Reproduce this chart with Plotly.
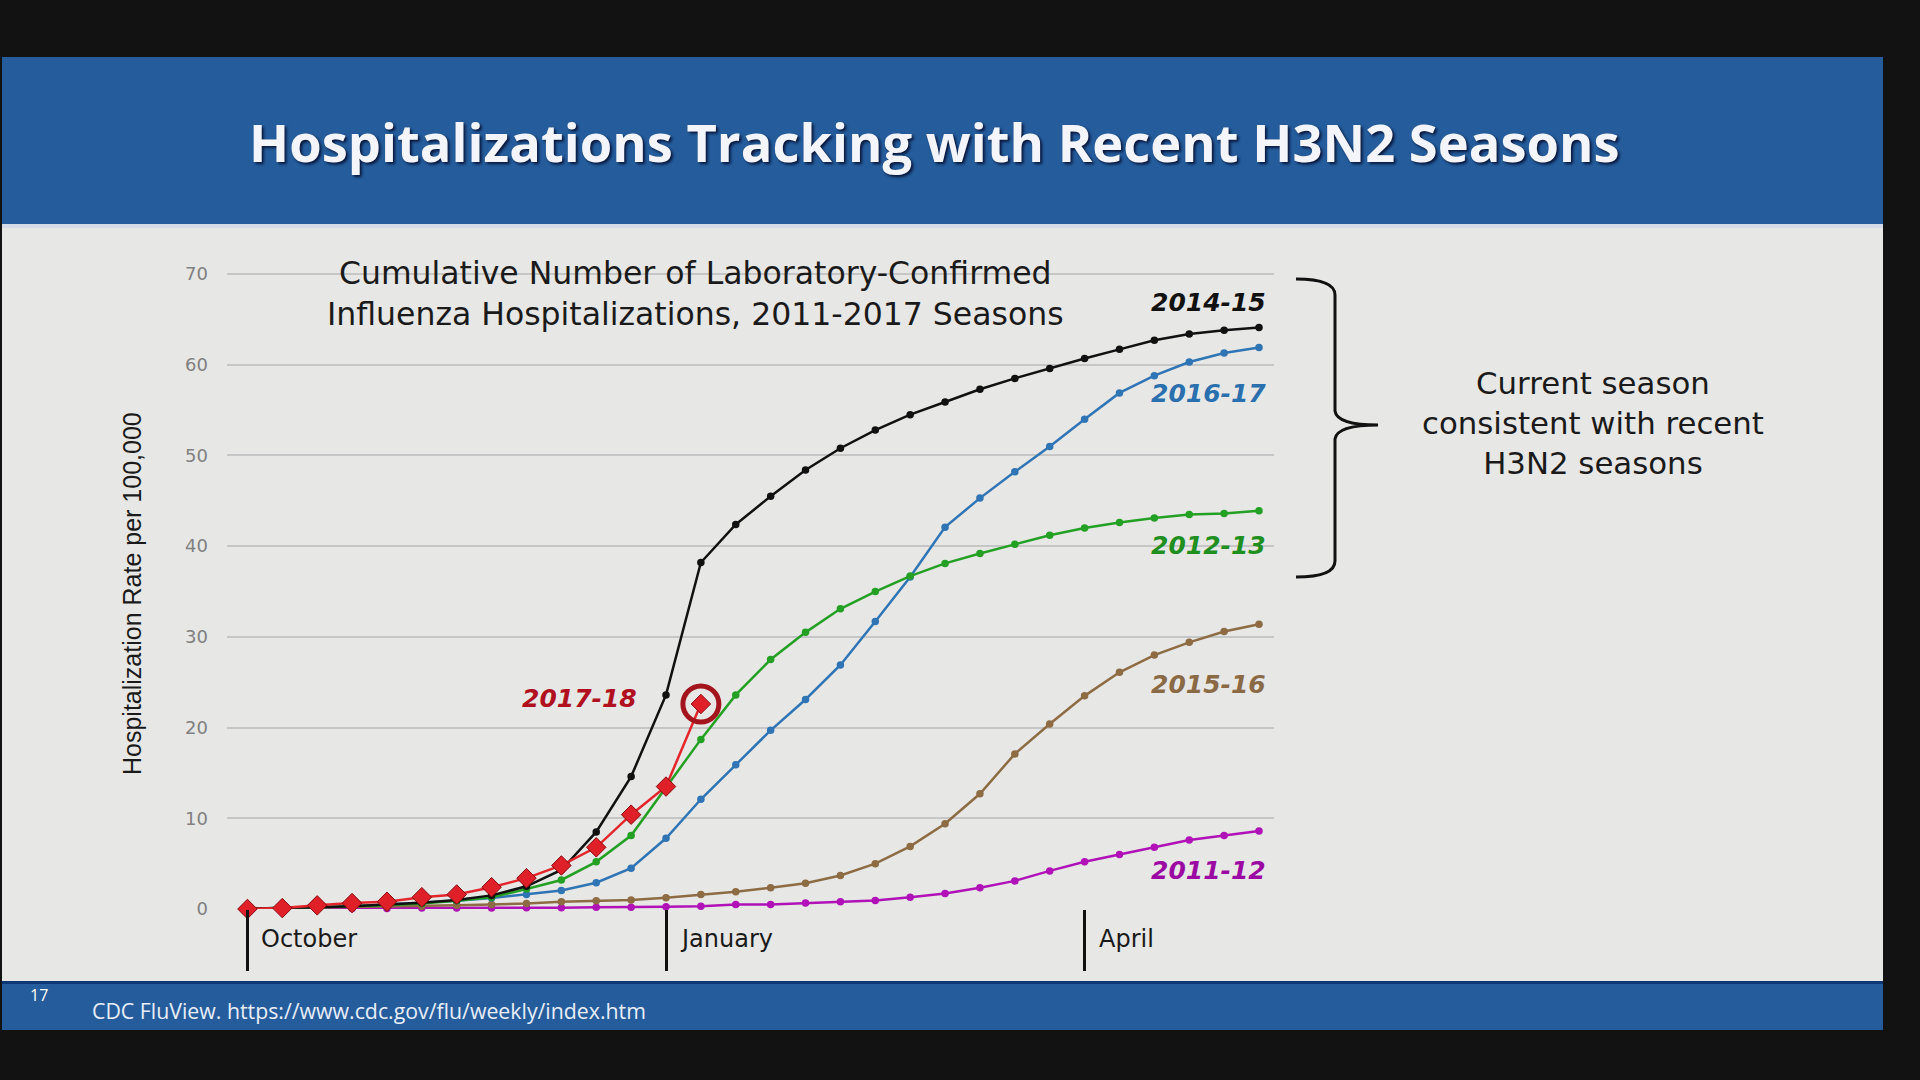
import plotly.graph_objects as go

# ---------------- data ----------------
weeks = list(range(30))
month_ticks = [0, 12, 24]
month_labels = ["October", "January", "April"]
y_ticks = [0, 10, 20, 30, 40, 50, 60, 70]

s2011_12 = [0.0, 0.0, 0.05, 0.05, 0.05, 0.1, 0.1, 0.1, 0.15, 0.15, 0.2, 0.2, 0.25, 0.3, 0.5,
            0.5, 0.65, 0.8, 0.95, 1.3, 1.7, 2.35, 3.1, 4.2, 5.2, 6.0, 6.8, 7.6, 8.1, 8.6]
s2012_13 = [0.05, 0.1, 0.2, 0.3, 0.4, 0.6, 0.9, 1.3, 2.2, 3.2, 5.2, 8.1, 13.4, 18.7, 23.6,
            27.5, 30.5, 33.1, 35.0, 36.7, 38.1, 39.2, 40.2, 41.2, 42.0, 42.6, 43.1, 43.5, 43.6, 43.9]
s2014_15 = [0.05, 0.1, 0.2, 0.3, 0.5, 0.7, 1.0, 1.5, 2.5, 4.3, 8.5, 14.6, 23.6, 38.2, 42.4,
            45.5, 48.4, 50.8, 52.8, 54.5, 55.9, 57.3, 58.5, 59.6, 60.7, 61.7, 62.7, 63.4, 63.8, 64.1]
s2015_16 = [0.05, 0.1, 0.15, 0.2, 0.25, 0.3, 0.4, 0.5, 0.6, 0.8, 0.9, 1.0, 1.25, 1.6, 1.9,
            2.35, 2.85, 3.7, 5.0, 6.9, 9.4, 12.7, 17.1, 20.4, 23.5, 26.1, 28.0, 29.4, 30.6, 31.4]
s2016_17 = [0.05, 0.1, 0.2, 0.3, 0.5, 0.7, 0.9, 1.2, 1.6, 2.05, 2.9, 4.5, 7.8, 12.1, 15.9,
            19.7, 23.1, 26.9, 31.7, 36.6, 42.1, 45.3, 48.2, 51.0, 54.0, 56.9, 58.8, 60.3, 61.3, 61.9]
s2017_18 = [0.0, 0.1, 0.4, 0.65, 0.8, 1.3, 1.6, 2.4, 3.4, 4.8, 6.8, 10.4, 13.5, 22.6]

# ---------------- layout geometry ----------------
W, H = 1920, 1080
L, R, T, B = 227, 646, 265, 171
PW, PH = W - L - R, H - T - B
BG = "#e7e7e5"
BLUE = "#255d9c"


def px(x):
    return (x - L) / PW


def py(y):
    return (H - B - y) / PH


fig = go.Figure()

series = [
    ("2011-12", s2011_12, "#b012b8"),
    ("2015-16", s2015_16, "#8d6b43"),
    ("2016-17", s2016_17, "#2f75b5"),
    ("2012-13", s2012_13, "#24a024"),
    ("2014-15", s2014_15, "#111111"),
]
for name, vals, col in series:
    fig.add_trace(go.Scatter(
        x=weeks[:len(vals)], y=vals, mode="lines+markers", name=name,
        line=dict(color=col, width=2.5), marker=dict(color=col, size=7.5),
        cliponaxis=False, showlegend=False))

fig.add_trace(go.Scatter(
    x=weeks[:len(s2017_18)], y=s2017_18, mode="lines+markers", name="2017-18",
    line=dict(color="#e3262b", width=2.5),
    marker=dict(symbol="diamond", size=15, color="#e02028",
                line=dict(color="#8a0b10", width=1)),
    cliponaxis=False, showlegend=False))
# highlight ring on the latest point
fig.add_trace(go.Scatter(
    x=[weeks[len(s2017_18) - 1]], y=[s2017_18[-1]], mode="markers",
    marker=dict(symbol="circle-open", size=36, color="#a3141c",
                line=dict(color="#a3141c", width=5)),
    cliponaxis=False, showlegend=False, hoverinfo="skip"))

shapes = [
    # slide content background
    dict(type="rect", xref="paper", yref="paper", x0=px(2), x1=px(1883), y0=py(981), y1=py(226),
         fillcolor=BG, line=dict(width=0), layer="below"),
    # title bar
    dict(type="rect", xref="paper", yref="paper", x0=px(2), x1=px(1883), y0=py(224), y1=py(57),
         fillcolor=BLUE, line=dict(width=0), layer="below"),
    dict(type="rect", xref="paper", yref="paper", x0=px(2), x1=px(1883), y0=py(228), y1=py(224),
         fillcolor="#d5dce8", line=dict(width=0), layer="below"),
    # footer bar
    dict(type="rect", xref="paper", yref="paper", x0=px(2), x1=px(1883), y0=py(1030), y1=py(981),
         fillcolor=BLUE, line=dict(width=0), layer="below"),
    dict(type="rect", xref="paper", yref="paper", x0=px(2), x1=px(1883), y0=py(984), y1=py(981),
         fillcolor="#0c3674", line=dict(width=0), layer="below"),
    # cover of the top gridline behind the chart title
    dict(type="rect", xref="paper", yref="paper", x0=px(307), x1=px(1084), y0=py(290), y1=py(258),
         fillcolor=BG, line=dict(width=0), layer="between"),
]

# bracket
bx, top, bot, mid, tip, hook = 1335, 279, 577, 425, 1378, 1296
path = (f"M {px(hook)},{py(top)} Q {px(bx)},{py(top)} {px(bx)},{py(top + 16)} "
        f"L {px(bx)},{py(mid - 14)} Q {px(bx + 2)},{py(mid)} {px(tip)},{py(mid)} "
        f"Q {px(bx + 2)},{py(mid)} {px(bx)},{py(mid + 14)} "
        f"L {px(bx)},{py(bot - 16)} Q {px(bx)},{py(bot)} {px(hook)},{py(bot)}")
shapes.append(dict(type="path", xref="paper", yref="paper", path=path,
                   line=dict(color="#111111", width=3)))

annotations = [
    dict(text="Hospitalizations Tracking with Recent H3N2 Seasons", x=px(934), y=py(142),
         xref="paper", yref="paper", showarrow=False, xanchor="center", yanchor="middle",
         font=dict(family="Open Sans", size=52.5, color="#f3f5fa", weight="bold",
                   shadow="2px 2px 3px #08153a")),
    dict(text="17", x=px(28), y=py(995), xref="paper", yref="paper", showarrow=False,
         xanchor="left", yanchor="middle", font=dict(family="Open Sans", size=16, color="#ffffff")),
    dict(text="CDC FluView. https://www.cdc.gov/flu/weekly/index.htm", x=px(90), y=py(1010),
         xref="paper", yref="paper", showarrow=False, xanchor="left", yanchor="middle",
         font=dict(family="Open Sans", size=21.3, color="#e8eef8")),
    dict(text="Cumulative Number of Laboratory-Confirmed<br>Influenza Hospitalizations, 2011-2017 Seasons",
         x=px(695), y=py(293), xref="paper", yref="paper", showarrow=False, xanchor="center",
         yanchor="middle", align="center",
         font=dict(family="DejaVu Sans", size=31.5, color="#1a1a1a")),
    dict(text="Current season<br>consistent with recent<br>H3N2 seasons", x=px(1593), y=py(423),
         xref="paper", yref="paper", showarrow=False, xanchor="center", yanchor="middle",
         align="center", font=dict(family="DejaVu Sans", size=30.8, color="#1a1a1a")),
    dict(text="Hospitalization Rate per 100,000", x=px(132), y=py(594), xref="paper", yref="paper",
         showarrow=False, textangle=-90, xanchor="center", yanchor="middle",
         font=dict(family="Liberation Sans", size=25, color="#1a1a1a")),
]

label_pos = [
    ("2014-15", "#111111", 1268, 302),
    ("2016-17", "#2a6fae", 1268, 393),
    ("2012-13", "#1f8f1f", 1268, 545),
    ("2015-16", "#8a6a45", 1268, 684),
    ("2011-12", "#9b0aa3", 1268, 870),
    ("2017-18", "#b01020", 639, 698),
]
for txt, col, xr, yc in label_pos:
    annotations.append(dict(
        text=f"<b><i>{txt}</i></b>", x=px(xr), y=py(yc), xref="paper", yref="paper",
        showarrow=False, xanchor="right", yanchor="middle",
        font=dict(family="DejaVu Sans", size=25, color=col)))

for tv, lab in zip(month_ticks, month_labels):
    annotations.append(dict(
        text=lab, x=tv, y=py(939), xref="x", yref="paper", showarrow=False,
        xanchor="left", yanchor="middle", xshift=12,
        font=dict(family="DejaVu Sans", size=24, color="#1a1a1a")))

fig.update_layout(
    width=W, height=H,
    margin=dict(l=L, r=R, t=T, b=B, pad=0),
    paper_bgcolor="#121212",
    plot_bgcolor="rgba(0,0,0,0)",
    shapes=shapes,
    annotations=annotations,
    xaxis=dict(range=[-0.585, 29.43], showgrid=False, zeroline=False, showline=False,
               tickvals=month_ticks, ticktext=["", "", ""], ticks="outside", ticklen=61,
               tickwidth=3, tickcolor="#111111", showticklabels=False, fixedrange=True),
    yaxis=dict(range=[0, 71], tickvals=y_ticks, showgrid=True, gridcolor="#c6c6c6", gridwidth=1.5,
               zeroline=False, showline=False, ticks="", ticklabelstandoff=18,
               tickfont=dict(family="DejaVu Sans", size=18, color="#808080"), fixedrange=True),
    showlegend=False,
)

fig.write_html("out.html")
